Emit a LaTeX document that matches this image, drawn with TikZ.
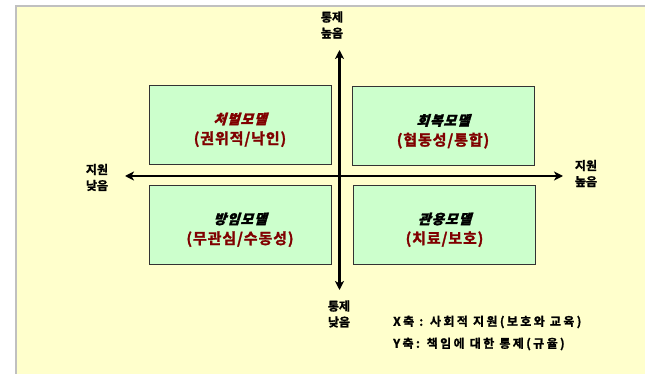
\documentclass[tikz,border=0pt]{standalone}
\usepackage{fontspec}
\setmainfont{Noto Sans CJK KR}[BoldFont={Noto Sans CJK KR Bold}]
\newfontfamily\krbold{Noto Sans CJK KR Bold}[FakeBold=1.5]
\newfontfamily\krtitle{Noto Sans CJK KR Black}[FakeBold=2, FakeSlant=0.3]
\usetikzlibrary{arrows.meta}
\definecolor{bg}{HTML}{FFFFCC}
\definecolor{boxfill}{HTML}{CCFFCC}
\definecolor{dred}{HTML}{800000}
\definecolor{frame}{HTML}{C0C0C0}
\tikzset{
  quad/.style={draw=black!80, line width=0.9pt, fill=boxfill, minimum width=182pt, minimum height=79pt, inner sep=0pt, align=center},
  axis/.style={line width=2.5pt, -{Stealth[length=9pt,width=9pt,inset=2.5pt]}},
  lbl/.style={align=center, font=\fontsize{12}{16}\selectfont\krbold, inner sep=0pt},
  legend/.style={anchor=west, font=\fontsize{12}{13}\selectfont\krbold\addfontfeature{LetterSpace=20}, inner sep=0pt}
}
\newcommand{\mtitle}[1]{{\fontsize{13.5}{14}\selectfont\krtitle\addfontfeature{LetterSpace=8}\rule{0pt}{22pt}#1}}
\newcommand{\subt}[1]{{\fontsize{15}{16}\selectfont\krbold\addfontfeature{LetterSpace=6}\color{dred}#1}}
\begin{document}
\begin{tikzpicture}[x=1pt,y=-1pt]
\useasboundingbox (0,0) rectangle (645,374);
\fill[bg] (16,6) rectangle (645,374);
\draw[frame, line width=2pt] (16,374) -- (16,6) -- (645,6);
% quadrant boxes
\node[quad] (pun) at (240,124.5) {\mtitle{\color{dred}처벌모델}\\[5pt]\subt{(권위적/낙인)}};
\node[quad] (res) at (443,126) {\mtitle{회복모델}\\[5pt]\subt{(협동성/통합)}};
\node[quad] (neg) at (240,224.5) {\mtitle{방임모델}\\[5pt]\subt{(무관심/수동성)}};
\node[quad] (tol) at (444.5,224.5) {\mtitle{관용모델}\\[5pt]\subt{(치료/보호)}};
% axes
\coordinate (xl) at (125,176);
\coordinate (xr) at (563,176);
\coordinate (yt) at (339.5,50);
\coordinate (yb) at (339.5,290);
\coordinate (o) at (339.5,176);
\draw[axis] (o) -- (xl);
\draw[axis] (o) -- (xr);
\draw[axis] (o) -- (yt);
\draw[axis] (o) -- (yb);
% axis labels
\node[lbl] (lowx) at (97,177.5) {지원\\낮음};
\node[lbl] (highx) at (586,173.5) {지원\\높음};
\node[lbl] (highy) at (332,25) {통제\\높음};
\node[lbl] (lowy) at (339,314) {통제\\낮음};
% legend
\node[legend] (lx) at (393,322) {X축 : 사회적 지원(보호와 교육)};
\node[legend] (ly) at (393,344) {Y축: 책임에 대한 통제(규율)};
\end{tikzpicture}
\end{document}
